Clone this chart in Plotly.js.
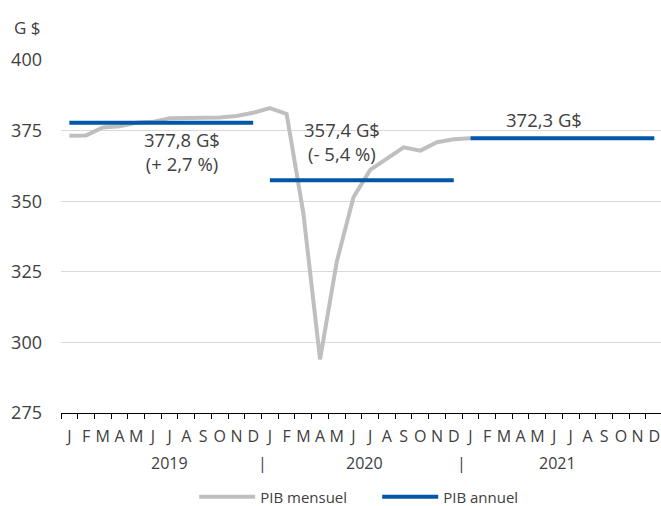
<!DOCTYPE html>
<html>
<head>
<meta charset="utf-8">
<script src="https://cdn.plot.ly/plotly-3.0.1.min.js"></script>
<style>html,body{margin:0;padding:0;background:#fff;}#chart{width:661px;height:506px;}</style>
</head>
<body>
<div id="chart"></div>
<script>
const years = ["2019", "2020", "2021"];
const monthLetters = ["J","F","M","A","M","J","J","A","S","O","N","D"];
// monthly GDP, Jan 2019 .. Jan 2021 (G$)
const pibMensuel = [373.2, 373.3, 376.1, 376.5, 377.8, 378.1, 379.4, 379.4, 379.3, 379.6, 380.2, 381.3,
                    383.0, 380.9, 345.8, 294.0, 328.6, 351.4, 361.1, 365.2, 369.1, 367.9, 370.9, 371.9,
                    372.3];
const pibAnnuel = [377.8, 357.4, 372.3];
const annuelLabels = ["377,8 G$<br>(+ 2,7 %)", "357,4 G$<br>(- 5,4 %)", "372,3 G$"];

const cats = [];
const tickText = [];
years.forEach(y => monthLetters.forEach((m, i) => {
  cats.push(y + "-" + String(i + 1).padStart(2, "0"));
  tickText.push(m);
}));

const textColor = "#404040";
const fontFam = "'Open Sans', sans-serif";

const traces = [{
  type: "scatter", mode: "lines", name: "PIB mensuel",
  x: cats.slice(0, pibMensuel.length), y: pibMensuel,
  line: {color: "#bfbfbf", width: 4}
}];
years.forEach((y, k) => {
  traces.push({
    type: "scatter", mode: "lines", name: "PIB annuel",
    showlegend: k === 0, legendgroup: "annuel",
    x: [cats[k * 12], cats[k * 12 + 11]], y: [pibAnnuel[k], pibAnnuel[k]],
    line: {color: "#0057a8", width: 4}
  });
});

const annotations = [];
// annual value labels
const annPos = [{x: 6.75, y: 377.0, yanchor: "top"}, {x: 16.3, y: 371.3, yanchor: "middle"}, {x: 28.4, y: 373.8, yanchor: "bottom"}];
pibAnnuel.forEach((v, k) => {
  annotations.push({
    xref: "x", yref: "y", x: annPos[k].x, y: annPos[k].y, yanchor: annPos[k].yanchor,
    text: annuelLabels[k], showarrow: false, font: {size: 18.5, color: textColor, family: fontFam}
  });
});
// year labels (placed as in the reference's multi-level axis)
const yearPos = [6.0, 17.65, 29.2];
years.forEach((y, k) => {
  annotations.push({
    xref: "x", yref: "paper", x: yearPos[k], y: -0.142, yanchor: "middle",
    text: y, showarrow: false, font: {size: 16, color: textColor, family: fontFam}
  });
});
[11.55, 23.45].forEach(b => annotations.push({
  xref: "x", yref: "paper", x: b, y: -0.142, yanchor: "middle",
  text: "|", showarrow: false, font: {size: 16, color: textColor, family: fontFam}
}));
annotations.push({
  xref: "paper", yref: "paper", x: -0.03, y: 1.093, xanchor: "right", yanchor: "middle",
  text: "G $", showarrow: false, font: {size: 17, color: textColor, family: fontFam}
});

const layout = {
  width: 661, height: 506,
  margin: {l: 61, r: 0, t: 60, b: 93, autoexpand: false},
  paper_bgcolor: "#fff", plot_bgcolor: "#fff",
  font: {family: fontFam, color: textColor},
  showlegend: true,
  legend: {orientation: "h", x: 0.527, xanchor: "center", y: -0.238, yanchor: "middle",
           font: {size: 15, color: textColor}, itemwidth: 56,
           entrywidth: 112, entrywidthmode: "pixels"},
  xaxis: {
    type: "category", categoryorder: "array", categoryarray: cats,
    range: [-0.5, 35.4],
    tickmode: "array", tickvals: cats, ticktext: tickText, tickangle: 0,
    tickson: "boundaries", ticks: "outside", ticklen: 5, tickcolor: "#000", tickwidth: 1,
    ticklabelstandoff: 9,
    showline: true, linecolor: "#000", linewidth: 1,
    showgrid: false, tickfont: {size: 16, color: textColor}, fixedrange: true, automargin: false
  },
  yaxis: {
    range: [275, 400], tickvals: [275, 300, 325, 350, 375, 400],
    showgrid: true, gridcolor: "#d9d9d9", gridwidth: 1,
    zeroline: false, showline: false, ticks: "",
    ticklabelstandoff: 18,
    tickfont: {size: 18, color: textColor}, fixedrange: true, automargin: false
  },
  annotations: annotations
};

Plotly.newPlot("chart", traces, layout, {displayModeBar: false, staticPlot: true});
</script>
</body>
</html>
